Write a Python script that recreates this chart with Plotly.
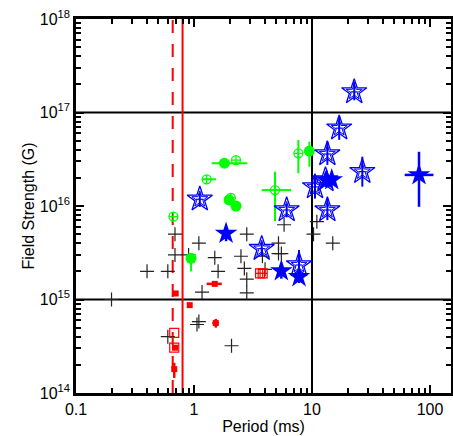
import plotly.graph_objects as go

# ---------------- data ----------------
# black crosses
cross_P = [0.69, 0.69, 1.10, 0.90, 0.40, 0.60, 1.50, 1.60, 1.17, 0.20, 1.06, 1.10, 0.60, 2.08,
           5.8, 11.0, 10.3, 15.0, 2.8, 5.2, 2.5, 3.8, 5.2, 5.5, 2.67, 4.0, 2.8, 2.8]
cross_B = [5.0e15, 3.0e15, 4.0e15, 3.0e15, 2.0e15, 2.0e15, 2.8e15, 2.0e15, 1.2e15, 1.0e15, 5.4e14, 5.8e14, 4.0e14, 3.2e14,
           6.3e15, 6.8e15, 5.0e15, 4.0e15, 5.0e15, 4.0e15, 2.9e15, 2.9e15, 3.1e15, 3.1e15, 2.15e15, 2.1e15, 1.65e15, 1.18e15]

# red filled squares
redf_P = [0.70, 0.92, 1.50, 1.53, 0.69, 0.68]
redf_B = [1.16e15, 8.7e14, 1.47e15, 5.6e14, 3.05e14, 1.8e14]
redf_xp = [0, 0, 0.22, 0.10, 0, 0]
redf_xm = [0, 0, 0.22, 0.10, 0, 0]
redf_yp = [0, 0, 0, 0.6e14, 0, 0.3e14]
redf_ym = [0, 0, 0, 0.6e14, 0, 0.35e14]

# red open squares
redo_P = [0.68, 0.68]
redo_B = [4.4e14, 3.05e14]
# red open squares with cross
redc_P = [3.63, 3.82]
redc_B = [1.9e15, 1.9e15]

# green filled circles
gf_P = [1.81, 1.98, 2.27, 0.944, 9.5]
gf_B = [2.87e16, 1.16e16, 1.0e16, 2.76e15, 3.87e16]
gf_xp = [1.02, 0, 0, 0, 0]
gf_xm = [0.40, 0, 0, 0, 0]
gf_yp = [0, 0, 0, 0, 1.0e16]
gf_ym = [0, 0.1e16, 0, 0.76e15, 1.24e16]

# green open circles with cross
go_P = [2.27, 1.28, 0.67, 2.05, 4.86, 7.66]
go_B = [3.1e16, 1.93e16, 7.7e15, 1.22e16, 1.48e16, 3.66e16]
go_xp = [0, 0.26, 0, 0, 1.78, 0]
go_xm = [0, 0.11, 0, 0, 1.11, 0]
go_yp = [0, 0, 0, 0, 0.85e16, 1.42e16]
go_ym = [0, 0, 0, 0, 0.79e16, 1.42e16]

# blue open stars
bo_P = [22.8, 17.0, 13.5, 26.7, 13.0, 10.6, 13.5, 1.12, 6.1, 3.75, 7.76]
bo_B = [1.66e17, 6.8e16, 3.6e16, 2.33e16, 1.9e16, 1.6e16, 9.06e15, 1.18e16, 9.06e15, 3.5e15, 2.34e15]
bo_yp = [0.48e17, 2.2e16, 1.27e16, 1.04e16, 0.3e16, 0.46e16, 0.31e16, 0.2e16, 0.15e16, 0.6e15, 1.05e15]
bo_ym = [0.31e17, 1.7e16, 0.85e16, 0.72e16, 0.3e16, 0.40e16, 0.20e16, 0.2e16, 0.15e16, 0.6e15, 0.59e15]
bo_xp = [1.6, 1.2, 1.0, 1.9, 0.9, 0.7, 1.0, 0.08, 0.4, 0.25, 0.5]
bo_xm = [1.6, 1.2, 1.0, 1.9, 0.9, 0.7, 1.0, 0.08, 0.4, 0.25, 0.5]

# blue filled stars
bf_P = [80.7, 13.3, 14.7, 1.87, 5.5, 7.76]
bf_B = [2.15e16, 1.9e16, 1.9e16, 5.1e15, 2.02e15, 1.75e15]
bf_xp = [26.3, 0, 0, 0, 0, 0]
bf_xm = [19.7, 0, 0, 0, 0, 0]
bf_yp = [1.65e16, 0.25e16, 0.25e16, 0.7e15, 0.3e15, 0.25e15]
bf_ym = [1.17e16, 0.25e16, 0.25e16, 0.9e15, 0.35e15, 0.25e15]

# reference lines
hline_B = [1e15, 1e17]
vline_P = [10.0]
red_solid_P = 0.80
red_dash_P = 0.66
x_range = [0.1, 150]
y_range = [1e14, 1e18]

x_tick_vals = [0.1, 1, 10, 100]
x_tick_text = ["0.1", "1", "10", "100"]
y_tick_vals = [1e14, 1e15, 1e16, 1e17, 1e18]
y_tick_text = ["10<sup>14</sup>", "10<sup>15</sup>", "10<sup>16</sup>", "10<sup>17</sup>", "10<sup>18</sup>"]

# ---------------- figure ----------------
fig = go.Figure()

for b in hline_B:
    fig.add_trace(go.Scatter(x=x_range, y=[b, b], mode="lines",
                             line=dict(color="black", width=2), hoverinfo="skip"))
for p in vline_P:
    fig.add_trace(go.Scatter(x=[p, p], y=y_range, mode="lines",
                             line=dict(color="black", width=2), hoverinfo="skip"))
fig.add_trace(go.Scatter(x=[red_solid_P, red_solid_P], y=y_range, mode="lines",
                         line=dict(color="#ff0000", width=2)))
fig.add_trace(go.Scatter(x=[red_dash_P, red_dash_P], y=y_range, mode="lines",
                         line=dict(color="#ff0000", width=2, dash="13px,11px")))

fig.add_trace(go.Scatter(x=cross_P, y=cross_B, mode="markers",
                         marker=dict(symbol="cross-thin-open", size=10, color="#222222",
                                     line=dict(color="#222222", width=1.2))))

red = "#ff0000"
fig.add_trace(go.Scatter(x=redo_P, y=redo_B, mode="markers",
                         marker=dict(symbol="square-open", size=9, color=red,
                                     line=dict(color=red, width=1.2))))
fig.add_trace(go.Scatter(x=redc_P, y=redc_B, mode="markers",
                         marker=dict(symbol="square-cross-open", size=9, color=red,
                                     line=dict(color=red, width=1.2))))
fig.add_trace(go.Scatter(x=redf_P, y=redf_B, mode="markers",
                         marker=dict(symbol="square", size=6, color=red),
                         error_x=dict(type="data", symmetric=False, array=redf_xp, arrayminus=redf_xm,
                                      color=red, thickness=2.5, width=0),
                         error_y=dict(type="data", symmetric=False, array=redf_yp, arrayminus=redf_ym,
                                      color=red, thickness=2.5, width=0)))

green = "#00ff00"
fig.add_trace(go.Scatter(x=gf_P, y=gf_B, mode="markers",
                         marker=dict(symbol="circle", size=11, color=green),
                         error_x=dict(type="data", symmetric=False, array=gf_xp, arrayminus=gf_xm,
                                      color=green, thickness=2, width=0),
                         error_y=dict(type="data", symmetric=False, array=gf_yp, arrayminus=gf_ym,
                                      color=green, thickness=2, width=0)))
fig.add_trace(go.Scatter(x=go_P, y=go_B, mode="markers",
                         marker=dict(symbol="circle-cross-open", size=9, color=green,
                                     line=dict(color=green, width=1.3)),
                         error_x=dict(type="data", symmetric=False, array=go_xp, arrayminus=go_xm,
                                      color=green, thickness=2, width=0),
                         error_y=dict(type="data", symmetric=False, array=go_yp, arrayminus=go_ym,
                                      color=green, thickness=2, width=0)))

blue = "#0000ff"
fig.add_trace(go.Scatter(x=bo_P, y=bo_B, mode="markers",
                         marker=dict(symbol="star-open", size=19, color=blue,
                                     line=dict(color=blue, width=1.3)),
                         error_x=dict(type="data", symmetric=False, array=bo_xp, arrayminus=bo_xm,
                                      color=blue, thickness=1.2, width=0),
                         error_y=dict(type="data", symmetric=False, array=bo_yp, arrayminus=bo_ym,
                                      color=blue, thickness=2, width=0)))
fig.add_trace(go.Scatter(x=bo_P, y=bo_B, mode="markers",
                         marker=dict(symbol="star-open", size=12, color=blue,
                                     line=dict(color=blue, width=1))))
fig.add_trace(go.Scatter(x=bf_P, y=bf_B, mode="markers",
                         marker=dict(symbol="star", size=17, color=blue),
                         error_x=dict(type="data", symmetric=False, array=bf_xp, arrayminus=bf_xm,
                                      color=blue, thickness=2.5, width=0),
                         error_y=dict(type="data", symmetric=False, array=bf_yp, arrayminus=bf_ym,
                                      color=blue, thickness=2.5, width=0)))

minor_x = [k * 10.0 ** d for d in range(-1, 3) for k in range(2, 10)]
minor_y = [k * 10.0 ** d for d in range(14, 18) for k in range(2, 10)]

font = dict(family="Liberation Sans, Arial, sans-serif", size=16, color="black")
title_font = dict(family="Liberation Sans, Arial, sans-serif", size=16, color="black")

fig.update_layout(
    width=453, height=436,
    margin=dict(l=76, r=2, t=19, b=43),
    paper_bgcolor="white", plot_bgcolor="white",
    showlegend=False,
    font=font,
    xaxis=dict(type="log", range=[-1, 2.178], tickmode="array", tickvals=x_tick_vals,
               ticktext=x_tick_text, ticks="inside", ticklen=8, tickwidth=2, tickcolor="black",
               showline=True, linecolor="black", linewidth=2.5, mirror="allticks",
               showgrid=False, zeroline=False, automargin=False, tickfont=font,
               minor=dict(tickmode="array", tickvals=minor_x, ticks="inside", ticklen=5,
                          tickwidth=1.5, tickcolor="black", showgrid=False),
               title=dict(text="Period (ms)", font=title_font, standoff=0)),
    yaxis=dict(type="log", range=[14, 18], tickmode="array", tickvals=y_tick_vals,
               ticktext=y_tick_text,
               ticks="inside", ticklen=8, tickwidth=2, tickcolor="black",
               showline=True, linecolor="black", linewidth=2.5, mirror="allticks",
               showgrid=False, zeroline=False, automargin=False, tickfont=font,
               minor=dict(tickmode="array", tickvals=minor_y, ticks="inside", ticklen=5,
                          tickwidth=1.5, tickcolor="black", showgrid=False),
               title=dict(text="Field Strength (G)", font=title_font, standoff=2)),
)

fig.write_html("out.html", config={"displayModeBar": False},
               post_script="document.body.style.margin='0';document.body.style.overflow='hidden';")
